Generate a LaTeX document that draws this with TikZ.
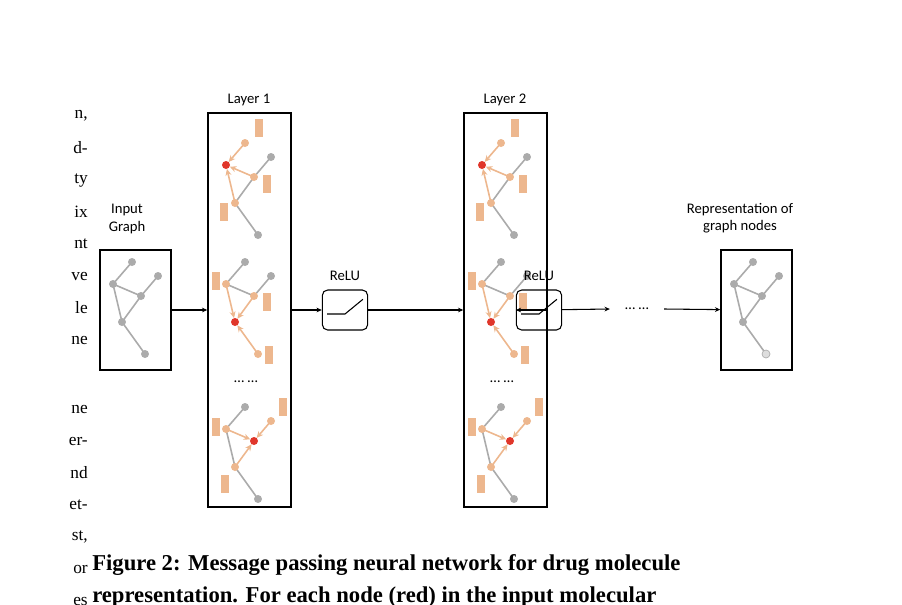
\documentclass[tikz,border=0pt]{standalone}
\usepackage{fontspec}
\setsansfont{Carlito}
\setmainfont{Liberation Serif}
\usetikzlibrary{arrows.meta}
\definecolor{bond}{HTML}{ABABAB}
\definecolor{msg}{HTML}{EDB78E}
\definecolor{hot}{HTML}{E0362A}

% atom positions of one molecule, relative to the top atom
\newcommand{\atoms}{%
  \coordinate (a) at (0,0);   \coordinate (b) at (-19,22);
  \coordinate (c) at (26,14); \coordinate (d) at (9,34);
  \coordinate (e) at (-10,60); \coordinate (f) at (13,92);}

\tikzset{
  box/.style={draw, line width=1.3pt},
  gbond/.style={bond, line width=1.2pt},
  mbond/.style={msg, line width=1.2pt, -{Stealth[length=5pt,width=4.5pt]}, shorten >=3pt},
  atom/.style={circle, fill=bond, inner sep=0pt, minimum size=6pt},
  matom/.style={atom, fill=msg},
  ratom/.style={atom, fill=hot},
  feat/.style={fill=msg, minimum width=6pt, minimum height=14pt, inner sep=0pt},
  flow/.style={-{Stealth[length=4pt,width=3.5pt]}, line width=0.8pt},
  lbl/.style={font=\sffamily\fontsize{11}{13}\selectfont, align=center},
  relu/.style={draw, rounded corners=4pt, line width=0.8pt, minimum width=34pt, minimum height=30pt}
}

\begin{document}
\begin{tikzpicture}[x=0.75pt, y=-0.75pt]
\useasboundingbox (0,0) rectangle (902,604);

% left column of the cut text
\foreach \frag/\y in {{n,}/116, d-/148, ty/180, ix/212, nt/244, ve/276, le/308, ne/340,
                   ne/409, er-/441, nd/473, et-/505, {st,}/537, or/569, es/601}
  \node[anchor=east, font=\fontsize{13}{15}\selectfont, inner sep=0pt] at (88,\y) {\frag};

% input graph
\node[box, minimum width=53pt, minimum height=90pt] (in) at (135.5,310) {};
\node[lbl] (inlbl) at (127,219) {Input\\Graph};
\begin{scope}[shift={(132,262)}]
  \atoms
  \draw[gbond] (a)--(b)--(d)--(c) (b)--(e)--(f) (d)--(e);
  \foreach \p in {a,b,c,d,e,f} \node[atom] at (\p) {};
\end{scope}

% the two layers
\foreach \L/\dx in {1/0, 2/192} {
  \begin{scope}[xshift=\dx]
    \node[box, minimum width=62pt, minimum height=295pt] (L\L) at (249.5,310) {};
    \node[lbl] at (249,100) {Layer \L};
    \node[lbl] at (246,382) {\dots\ \dots};
    % first molecule
    \begin{scope}[shift={(245,143)}]
      \atoms
      \draw[gbond] (d)--(c) (d)--(e)--(f);
      \draw[mbond] (a)--(b); \draw[mbond] (d)--(b); \draw[mbond] (e)--(b);
      \node[matom] at (a) {}; \node[ratom] at (b) {}; \node[atom] at (c) {};
      \node[matom] at (d) {}; \node[matom] at (e) {}; \node[atom] at (f) {};
      \node[feat] at (14,-15) {}; \node[feat] at (22,41) {}; \node[feat] at (-21,69) {};
    \end{scope}
    % second molecule
    \begin{scope}[shift={(245,262)}]
      \atoms
      \draw[gbond] (a)--(b)--(d)--(c);
      \draw[mbond] (b)--(e); \draw[mbond] (d)--(e); \draw[mbond] (f)--(e);
      \node[atom] at (a) {}; \node[matom] at (b) {}; \node[atom] at (c) {};
      \node[matom] at (d) {}; \node[ratom] at (e) {}; \node[matom] at (f) {};
      \node[feat] at (-29,19) {}; \node[feat] at (22,40) {}; \node[feat] at (24,93) {};
    \end{scope}
    % last molecule
    \begin{scope}[shift={(245,407)}]
      \atoms
      \draw[gbond] (a)--(b)--(e)--(f);
      \draw[mbond] (b)--(d); \draw[mbond] (c)--(d); \draw[mbond] (e)--(d);
      \node[atom] at (a) {}; \node[matom] at (b) {}; \node[matom] at (c) {};
      \node[ratom] at (d) {}; \node[matom] at (e) {}; \node[atom] at (f) {};
      \node[feat] at (-29,20) {}; \node[feat] at (38,0) {}; \node[feat] at (-20,77) {};
    \end{scope}
  \end{scope}
}

% activations
\foreach \R/\x in {1/345, 2/539} {
  \node[relu] (r\R) at (\x,310) {};
  \draw[line width=0.8pt] ([xshift=4pt,yshift=-3pt]r\R.west) -- ([yshift=-3pt]r\R.center)
    -- ([xshift=-4pt,yshift=8pt]r\R.east);
  \node[lbl] at (\x,276) {ReLU};
}

% output graph
\node[box, minimum width=53pt, minimum height=90pt] (out) at (756.5,310) {};
\node[lbl] (outlbl) at (740,218) {Representation of\\graph nodes};
\begin{scope}[shift={(753,262)}]
  \atoms
  \draw[gbond] (a)--(b)--(d)--(c) (b)--(e)--(f) (d)--(e);
  \foreach \p in {a,b,c,d,e} \node[atom] at (\p) {};
  \node[atom, fill=bond!40, draw=bond, line width=0.5pt] at (f) {};
\end{scope}

% data flow
\node[lbl] (more) at (637,309) {\dots\ \dots};
\draw[flow] (in) -- (L1);
\draw[flow] (L1) -- (r1);
\draw[flow] (r1) -- (L2);
\draw[flow] (L2) -- (r2);
\draw[flow] (r2) -- ([xshift=-8pt]more.west);
\draw[flow] ([xshift=8pt]more.east) -- (out);

% caption
\node[anchor=west, font=\bfseries\fontsize{17}{20}\selectfont, inner sep=0pt] (cap)
  at (92,565) {Figure 2: Message passing neural network for drug molecule};
\node[anchor=west, font=\bfseries\fontsize{17}{20}\selectfont, inner sep=0pt] (cap2)
  at (92,597) {representation. For each node (red) in the input molecular};
\end{tikzpicture}
\end{document}
